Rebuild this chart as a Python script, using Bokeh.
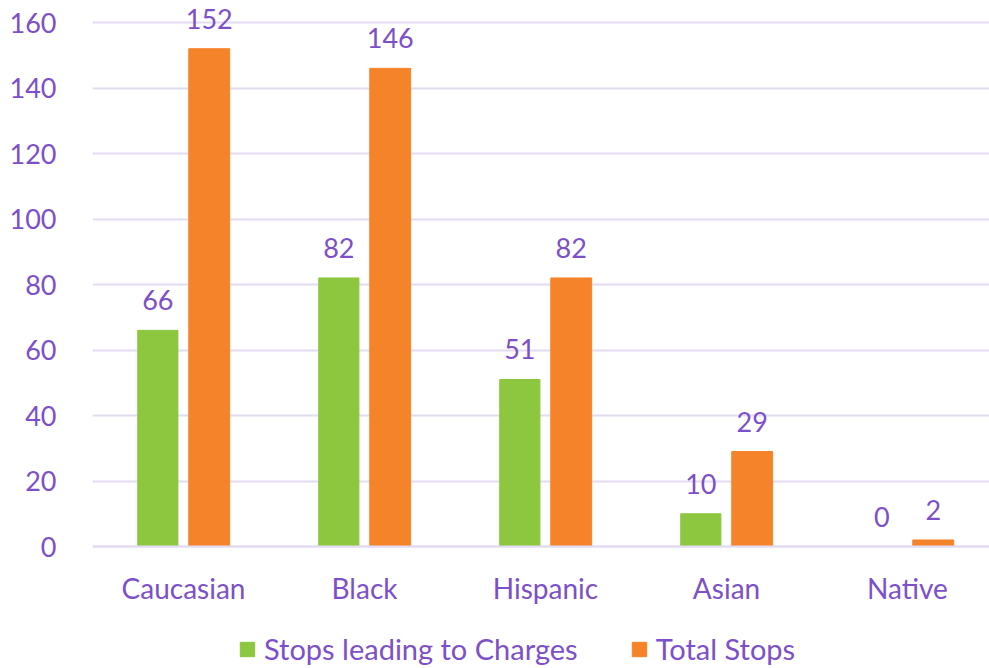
from bokeh.plotting import figure
from bokeh.models import ColumnDataSource, LabelSet, Legend, LegendItem, FixedTicker
from bokeh.core.properties import value
from bokeh.embed import file_html
from bokeh.resources import INLINE

categories = ["Caucasian", "Black", "Hispanic", "Asian", "Native"]
charges = [66, 82, 51, 10, 0]
total = [152, 146, 82, 29, 2]
y_ticks = [0, 20, 40, 60, 80, 100, 120, 140, 160]

PURPLE = "#7D4FC9"
GRID = "#E3DBF2"
GREEN = "#8DC63F"
ORANGE = "#F5832A"
FONT = "Lato"

xs = list(range(len(categories)))
src = ColumnDataSource(dict(
    x=xs,
    xg=[x - 0.142 for x in xs],
    xo=[x + 0.142 for x in xs],
    charges=charges,
    total=total,
    lc=[str(v) for v in charges],
    lt=[str(v) for v in total],
))

p = figure(width=989, height=668, output_backend="svg", toolbar_location=None,
           x_range=(-0.503, 4.453), y_range=(-37.25, 166.72),
           min_border_left=92, min_border_top=0, min_border_right=0, min_border_bottom=0)
p.outline_line_color = None
p.background_fill_color = "white"

rg = p.vbar(x="xg", top="charges", width=0.222, source=src, color=GREEN)
ro = p.vbar(x="xo", top="total", width=0.226, source=src, color=ORANGE)

for xf, yf, tf in (("xg", "charges", "lc"), ("xo", "total", "lt")):
    p.add_layout(LabelSet(x=xf, y=yf, text=tf, source=src, text_align="center",
                          text_baseline="alphabetic", y_offset=20, text_color=PURPLE,
                          text_font=value(FONT), text_font_size="27px"))

p.xgrid.grid_line_color = None
p.ygrid.grid_line_color = GRID
p.ygrid.grid_line_width = 2
p.ygrid.ticker = FixedTicker(ticks=y_ticks)

p.yaxis.ticker = FixedTicker(ticks=y_ticks)
p.yaxis.axis_line_color = None
p.yaxis.major_tick_line_color = None
p.yaxis.minor_tick_line_color = None
p.yaxis.major_label_standoff = 30
p.yaxis.major_label_text_color = PURPLE
p.yaxis.major_label_text_font = FONT
p.yaxis.major_label_text_font_size = "27px"

p.xaxis.fixed_location = 0
p.xaxis.ticker = FixedTicker(ticks=xs)
p.xaxis.major_label_overrides = {i: c for i, c in enumerate(categories)}
p.xaxis.axis_line_color = GRID
p.xaxis.axis_line_width = 2
p.xaxis.major_tick_line_color = None
p.xaxis.minor_tick_line_color = None
p.xaxis.major_label_standoff = 18
p.xaxis.major_label_text_color = PURPLE
p.xaxis.major_label_text_font = FONT
p.xaxis.major_label_text_font_size = "28px"

legend = Legend(items=[LegendItem(label="Stops leading to Charges", renderers=[rg]),
                       LegendItem(label="Total Stops", renderers=[ro])],
                orientation="horizontal", location=(146, 2),
                label_text_color=PURPLE, label_text_font=FONT, label_text_font_size="29px",
                glyph_width=18, glyph_height=18, label_standoff=8, spacing=52,
                border_line_color=None, background_fill_alpha=0, margin=0, padding=0)
p.add_layout(legend, "center")

open("out.html", "w").write(file_html(p, INLINE))
